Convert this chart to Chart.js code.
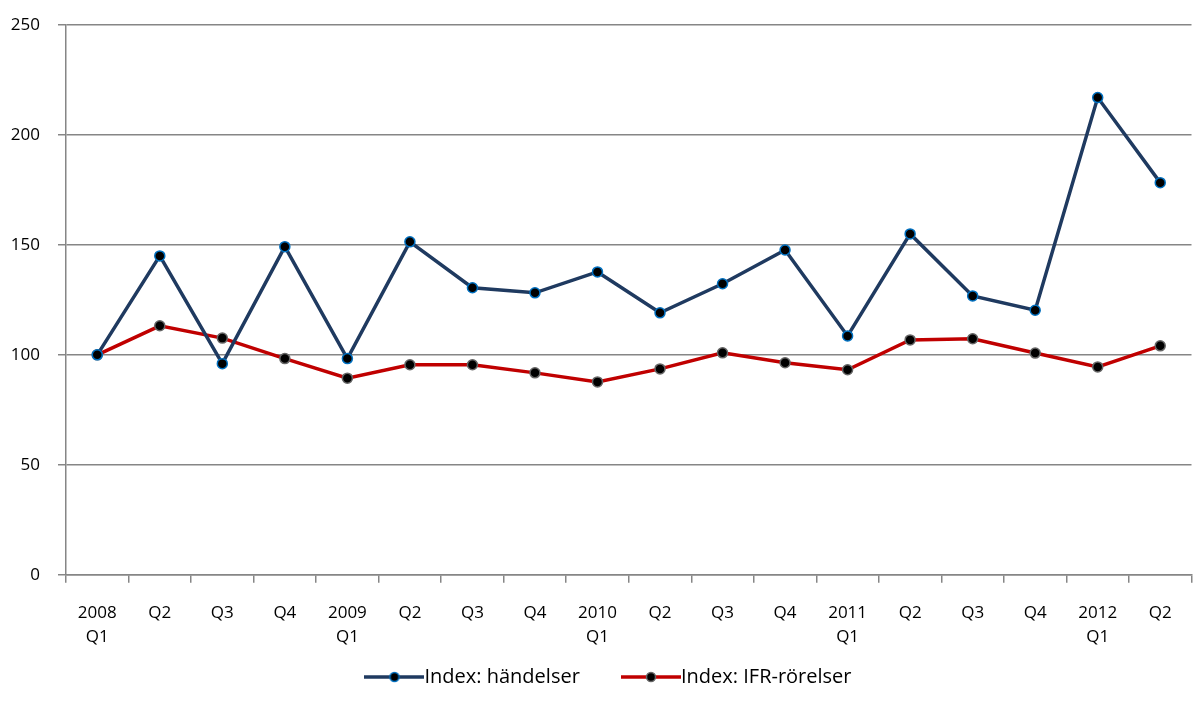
<!DOCTYPE html>
<html>
<head>
<meta charset="utf-8">
<script src="https://cdn.jsdelivr.net/npm/chart.js@4"></script>
<style>
html, body { margin: 0; padding: 0; background: #fff; }
#wrap { width: 1198px; height: 713px; }
</style>
</head>
<body>
<div id="wrap"><canvas id="myChart"></canvas></div>
<script>
// categories (quarters)
const labels = [
  ['2008', 'Q1'], 'Q2', 'Q3', 'Q4',
  ['2009', 'Q1'], 'Q2', 'Q3', 'Q4',
  ['2010', 'Q1'], 'Q2', 'Q3', 'Q4',
  ['2011', 'Q1'], 'Q2', 'Q3', 'Q4',
  ['2012', 'Q1'], 'Q2'
];
const handelser = [100, 145, 96, 149.2, 98.3, 151.4, 130.5, 128.2, 137.7, 119.1, 132.3, 147.7, 108.6, 155, 126.8, 120.3, 217, 178.3];
const ifrRorelser = [100, 113.2, 107.6, 98.3, 89.4, 95.5, 95.5, 91.8, 87.7, 93.6, 100.9, 96.4, 93.2, 106.8, 107.3, 100.8, 94.5, 104.1];
const yTicks = [0, 50, 100, 150, 200, 250];

// legend symbol: line with a dot in the middle
function legendIcon(lineColor, dotBorder) {
  const c = document.createElement('canvas');
  c.width = 60; c.height = 14;
  const ctx = c.getContext('2d');
  ctx.strokeStyle = lineColor;
  ctx.lineWidth = 3.5;
  ctx.beginPath();
  ctx.moveTo(0, 7); ctx.lineTo(60, 7);
  ctx.stroke();
  ctx.beginPath();
  ctx.arc(30, 7, 4.5, 0, Math.PI * 2);
  ctx.fillStyle = '#000';
  ctx.fill();
  ctx.lineWidth = 1.5;
  ctx.strokeStyle = dotBorder;
  ctx.stroke();
  return c;
}

const font = 'Open Sans';

const data = {
  labels: labels,
  datasets: [{
    label: 'Index: händelser',
    data: handelser,
    borderColor: '#1F3A60',
    borderWidth: 3.5,
    pointBackgroundColor: '#000',
    pointBorderColor: '#0070C0',
    pointBorderWidth: 1.5,
    pointRadius: 5,
    pointStyle: 'circle',
    tension: 0
  }, {
    label: 'Index: IFR-rörelser',
    data: ifrRorelser,
    borderColor: '#C00000',
    borderWidth: 3.5,
    pointBackgroundColor: '#000',
    pointBorderColor: '#666666',
    pointBorderWidth: 1.5,
    pointRadius: 5,
    pointStyle: 'circle',
    tension: 0
  }]
};

const icons = [legendIcon('#1F3A60', '#0070C0'), legendIcon('#C00000', '#666666')];

// nudge the legend a bit right, like the original
const legendShift = {
  id: 'legendShift',
  afterLayout(chart) {
    chart.legend.left += 15;
    chart.legend.right += 15;
  }
};

const config = {
  type: 'line',
  data: data,
  plugins: [legendShift],
  options: {
    responsive: true,
    maintainAspectRatio: false,
    animation: false,
    layout: { padding: { left: 0, right: 2, top: 25, bottom: 16 } },
    scales: {
      x: {
        offset: true,
        afterFit: (axis) => { axis.height -= 20; },
        grid: {
          offset: true,
          drawOnChartArea: false,
          drawTicks: true,
          tickLength: 8,
          color: '#868686',
          lineWidth: 1.5
        },
        border: { color: '#868686', width: 1.5 },
        ticks: {
          color: '#000',
          font: { family: font, size: 17, lineHeight: 1.42 },
          maxRotation: 0,
          autoSkip: false,
          padding: 18
        }
      },
      y: {
        min: 0,
        max: 250,
        afterBuildTicks: (axis) => { axis.ticks = yTicks.map(v => ({ value: v })); },
        afterFit: (axis) => {
          axis.width = 66;
          axis.paddingTop = 0;
          axis.paddingBottom = 0;
        },
        grid: {
          color: '#868686',
          lineWidth: 1.5,
          tickLength: 8
        },
        border: { color: '#868686', width: 1.5 },
        ticks: {
          color: '#000',
          font: { family: font, size: 17 },
          padding: 18
        }
      }
    },
    plugins: {
      legend: {
        position: 'bottom',
        labels: {
          usePointStyle: true,
          pointStyleWidth: 40,
          color: '#000',
          font: { family: font, size: 20 },
          padding: 20,
          generateLabels: (chart) => chart.data.datasets.map((ds, i) => ({
            text: i === 0 ? ds.label + '      ' : ds.label,
            pointStyle: icons[i],
            datasetIndex: i,
            fontColor: '#000',
            hidden: false
          }))
        }
      },
      tooltip: { enabled: false }
    }
  }
};

const myChart = new Chart(document.getElementById('myChart'), config);
</script>
</body>
</html>
